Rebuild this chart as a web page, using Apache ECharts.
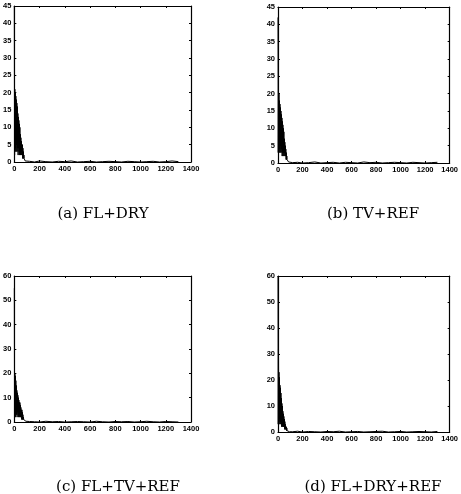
<!DOCTYPE html>
<html><head><meta charset="utf-8">
<script src="https://cdn.jsdelivr.net/npm/echarts@6/dist/echarts.min.js"></script>
<style>html,body{margin:0;padding:0;background:#fff}#c{width:461px;height:494px}</style>
</head><body><div id="c"></div>
<script>
// Shared x positions (dense decaying part and sparse tail)
const denseX = [0,2,4,6,8,10,12,14,16,18,20,22,24,26,28,30,32,34,36,38,40,42,44,46,48,50,52,54,56,58,60,62,64,66,68,70,72,74,76,78,80,82,84,86,88,90,92,94,96,98,100];
const tailX = [120,160,200,250,300,350,400,450,500,550,600,650,700,750,800,850,900,950,1000,1050,1100,1150,1200,1250,1300];

// Panel values
const denseA = [45,2,21,3,20,4,19,3,18,5,17,3,16,4,14,2,13,4,12,3,11,2,10,3,8,2,7,3,6,2,5,4,5,1,4,2,3,1,2,1,1.5,0.5,1,0.3,0.5,0.2,0.3,0.1,0.2,0.1,0];
const tailA = [0.2,0,0.3,0.1,0,0.2,0.1,0.3,0,0.1,0.2,0,0.1,0.2,0.1,0,0.2,0.1,0,0.1,0.2,0,0.1,0.3,0.1];
const denseB = [42,3,21,4,20,3,18,4,17,3,16,5,15,3,14,4,13,2,12,3,11,2,10,3,9,2,7,3,6,2,5,2,4,1,3,1,2,1,1.5,1,1,0.5,1,0.3,0.5,0.2,0.3,0.1,0.2,0.1,0];
const tailB = [0.1,0.2,0,0.1,0.3,0,0.1,0.2,0,0.2,0.1,0,0.3,0.1,0.2,0,0.1,0.2,0.1,0,0.2,0.1,0,0.1,0.2];
const denseC = [55,2,20,3,19,2,17,4,15,3,13,2,12,4,11,3,10,2,9,3,8,2,8,3,7,2,6,2,5,1,5,2,4,1,3,1,2,1,1.5,0.5,1,0.5,0.8,0.3,0.5,0.2,0.3,0.1,0.2,0.1,0];
const tailC = [0.2,0.1,0,0.3,0.1,0.2,0,0.1,0.2,0.1,0,0.3,0.1,0,0.2,0.1,0.2,0,0.1,0.3,0.1,0,0.2,0.1,0];
const denseD = [60,3,32,4,23,3,21,5,18,4,17,3,15,4,13,2,11,3,10,2,8,3,7,2,6,2,5,1,4,2,3,1,2,1,2,0.5,1.5,0.5,1,0.3,0.8,0.3,0.5,0.2,0.3,0.1,0.2,0.1,0.1,0,0];
const tailD = [0.1,0.3,0,0.2,0.1,0,0.2,0.1,0.3,0,0.1,0.2,0,0.1,0.2,0.3,0,0.1,0.2,0,0.1,0.2,0.1,0,0.2];

// Axis ranges and tick labels
const xTicks = [0,200,400,600,800,1000,1200,1400];
const yTicks45 = [0,5,10,15,20,25,30,35,40,45];
const yTicks60 = [0,10,20,30,40,50,60];
const captions = ['(a) FL+DRY','(b) TV+REF','(c) FL+TV+REF','(d) FL+DRY+REF'];

const panels = [
  {dense: denseA, tail: tailA, yMax: 45, yStep: 5, grid: {left: 13, top: 6, width: 178, height: 156}, cap: {x: 98, y: 202}},
  {dense: denseB, tail: tailB, yMax: 45, yStep: 5, grid: {left: 278, top: 7, width: 178, height: 156}, cap: {x: 368, y: 202}},
  {dense: denseC, tail: tailC, yMax: 60, yStep: 10, grid: {left: 13, top: 276, width: 178, height: 146}, cap: {x: 113, y: 475}},
  {dense: denseD, tail: tailD, yMax: 60, yStep: 10, grid: {left: 278, top: 276, width: 178, height: 156}, cap: {x: 368, y: 475}}
];

const labelFont = {fontSize: 7.5, color: '#000', fontFamily: 'Liberation Sans Narrow, Liberation Sans, sans-serif', fontWeight: 'bold'};
const axisLine = {show: true, onZero: false, lineStyle: {color: '#000', width: 1.2}};

const grid = [], xAxis = [], yAxis = [], series = [], title = [];
panels.forEach((p, i) => {
  grid.push(Object.assign({containLabel: false}, p.grid));
  const common = {min: 0, splitLine: {show: false}, axisLine: axisLine, axisTick: {inside: true, length: 2, lineStyle: {color: '#000'}}, gridIndex: i};
  xAxis.push(Object.assign({}, common, {type: 'value', max: 1400, interval: 200, position: 'bottom',
    axisLabel: Object.assign({margin: 3, formatter: v => xTicks.includes(v) ? String(v) : ''}, labelFont)}));
  xAxis.push(Object.assign({}, common, {type: 'value', max: 1400, interval: 200, position: 'top', axisLabel: {show: false}}));
  yAxis.push(Object.assign({}, common, {type: 'value', max: p.yMax, interval: p.yStep, position: 'left',
    axisLabel: Object.assign({margin: 3, formatter: v => (p.yMax === 45 ? yTicks45 : yTicks60).includes(v) ? String(v) : ''}, labelFont)}));
  yAxis.push(Object.assign({}, common, {type: 'value', max: p.yMax, interval: p.yStep, position: 'right', axisLabel: {show: false}}));
  const data = [];
  denseX.forEach((x, k) => data.push([x, p.dense[k]]));
  tailX.forEach((x, k) => data.push([x, p.tail[k]]));
  series.push({type: 'line', xAxisIndex: 2 * i, yAxisIndex: 2 * i, data: data, showSymbol: false, silent: true,
    lineStyle: {color: '#000', width: 1}, animation: false});
  title.push({text: captions[i], left: p.cap.x, top: p.cap.y, textAlign: 'center',
    textStyle: {fontSize: 15, fontWeight: 'normal', color: '#000', fontFamily: 'DejaVu Serif, Liberation Serif, serif'}});
});

const chart = echarts.init(document.getElementById('c'), null, {renderer: 'canvas'});
chart.setOption({animation: false, backgroundColor: '#fff', title, grid, xAxis, yAxis, series});
</script>
</body></html>
